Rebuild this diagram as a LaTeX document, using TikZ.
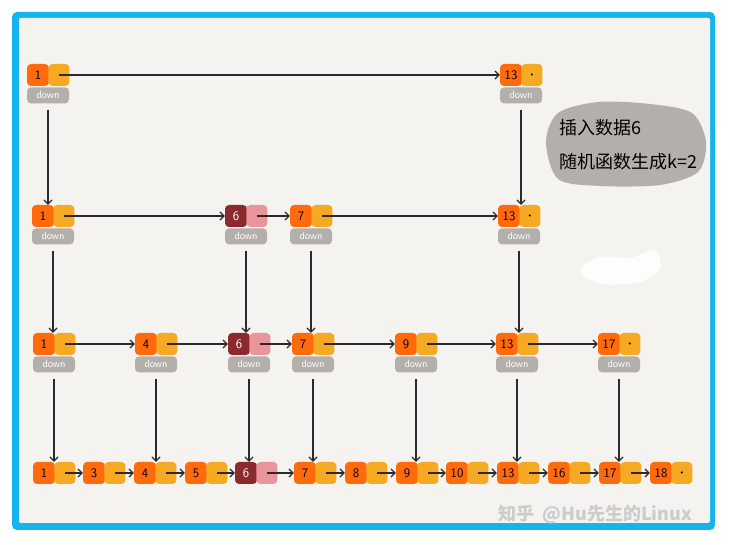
\documentclass[tikz,border=0pt]{standalone}
\usepackage{fontspec}
\newfontfamily\cjkfont{Noto Sans CJK SC}
\usetikzlibrary{positioning,arrows.meta}

\definecolor{frameblue}{HTML}{14B5EE}
\definecolor{paper}{HTML}{F4F3EF}
\definecolor{keyorange}{HTML}{FF6A0C}
\definecolor{ptryellow}{HTML}{F6A923}
\definecolor{downgray}{HTML}{B3B0AB}
\definecolor{newred}{HTML}{8A2A2E}
\definecolor{newpink}{HTML}{E9959B}
\definecolor{linkgray}{HTML}{2A2A2A}

\tikzset{
  key/.style={fill=keyorange, rounded corners=4pt, minimum size=22pt, inner sep=0pt,
    font=\sffamily\fontsize{13}{13}\selectfont},
  ptr/.style={fill=ptryellow, rounded corners=4pt, minimum width=21pt, minimum height=22pt,
    inner sep=0pt, font=\scriptsize},
  newkey/.style={key, fill=newred, text=white},
  newptr/.style={ptr, fill=newpink},
  downbox/.style={fill=downgray, rounded corners=4pt, minimum width=42pt, minimum height=16pt,
    inner sep=0pt, text=white, font=\sffamily\fontsize{10.5}{10.5}\selectfont},
  hlink/.style={draw=linkgray, line width=1.2pt, -{Straight Barb[length=4pt,width=8pt]}},
  vlink/.style={hlink, shorten <=6pt},
}

\begin{document}
\begin{tikzpicture}[x=1pt, y=-1pt]
\useasboundingbox (0,0) rectangle (732,545);
\fill[white] (0,0) rectangle (732,545);
\fill[frameblue, rounded corners=5pt] (12,12) rectangle (715,530);
\fill[paper, rounded corners=2pt] (19,18) rectangle (710,523);

% note bubble
\fill[downgray] plot[smooth cycle] coordinates {(546,142) (558,113) (598,102) (650,104) (692,113) (706,142) (698,172) (660,185) (600,186) (558,179)};
\node[anchor=west, font=\cjkfont\fontsize{18}{18}\selectfont] (note1) at (556,128) {插入数据6};
\node[anchor=west, font=\cjkfont\fontsize{18}{18}\selectfont] (note2) at (556,162) {随机函数生成k=2};
\fill[white, opacity=0.9] plot[smooth cycle] coordinates {(580,270) (600,257) (630,258) (655,250) (660,268) (640,282) (600,284)};

% level 1
\node[key] (L1n1) at (38,75) {1};
\node[ptr, right=-1pt of L1n1] (L1n1p) {};
\node[downbox, below right=1pt and 0pt of L1n1.south west] (L1n1d) {down};
\node[key] (L1n13) at (511,75) {13};
\node[ptr, right=-1pt of L1n13] (L1n13p) {\textbullet};
\node[downbox, below right=1pt and 0pt of L1n13.south west] (L1n13d) {down};

% level 2
\node[key] (L2n1) at (43,216) {1};
\node[ptr, right=-1pt of L2n1] (L2n1p) {};
\node[downbox, below right=1pt and 0pt of L2n1.south west] (L2n1d) {down};
\node[newkey] (L2n6) at (236,216) {6};
\node[newptr, right=-1pt of L2n6] (L2n6p) {};
\node[downbox, below right=1pt and 0pt of L2n6.south west] (L2n6d) {down};
\node[key] (L2n7) at (301,216) {7};
\node[ptr, right=-1pt of L2n7] (L2n7p) {};
\node[downbox, below right=1pt and 0pt of L2n7.south west] (L2n7d) {down};
\node[key] (L2n13) at (509,216) {13};
\node[ptr, right=-1pt of L2n13] (L2n13p) {\textbullet};
\node[downbox, below right=1pt and 0pt of L2n13.south west] (L2n13d) {down};

% level 3
\node[key] (L3n1) at (44,344) {1};
\node[ptr, right=-1pt of L3n1] (L3n1p) {};
\node[downbox, below right=1pt and 0pt of L3n1.south west] (L3n1d) {down};
\node[key] (L3n4) at (146,344) {4};
\node[ptr, right=-1pt of L3n4] (L3n4p) {};
\node[downbox, below right=1pt and 0pt of L3n4.south west] (L3n4d) {down};
\node[newkey] (L3n6) at (239,344) {6};
\node[newptr, right=-1pt of L3n6] (L3n6p) {};
\node[downbox, below right=1pt and 0pt of L3n6.south west] (L3n6d) {down};
\node[key] (L3n7) at (303,344) {7};
\node[ptr, right=-1pt of L3n7] (L3n7p) {};
\node[downbox, below right=1pt and 0pt of L3n7.south west] (L3n7d) {down};
\node[key] (L3n9) at (406,344) {9};
\node[ptr, right=-1pt of L3n9] (L3n9p) {};
\node[downbox, below right=1pt and 0pt of L3n9.south west] (L3n9d) {down};
\node[key] (L3n13) at (507,344) {13};
\node[ptr, right=-1pt of L3n13] (L3n13p) {};
\node[downbox, below right=1pt and 0pt of L3n13.south west] (L3n13d) {down};
\node[key] (L3n17) at (609,344) {17};
\node[ptr, right=-1pt of L3n17] (L3n17p) {\textbullet};
\node[downbox, below right=1pt and 0pt of L3n17.south west] (L3n17d) {down};

% level 4
\node[key] (L4n1) at (44,473) {1};
\node[ptr, right=-1pt of L4n1] (L4n1p) {};
\node[key] (L4n3) at (94,473) {3};
\node[ptr, right=-1pt of L4n3] (L4n3p) {};
\node[key] (L4n4) at (145,473) {4};
\node[ptr, right=-1pt of L4n4] (L4n4p) {};
\node[key] (L4n5) at (196,473) {5};
\node[ptr, right=-1pt of L4n5] (L4n5p) {};
\node[newkey] (L4n6) at (246,473) {6};
\node[newptr, right=-1pt of L4n6] (L4n6p) {};
\node[key] (L4n7) at (305,473) {7};
\node[ptr, right=-1pt of L4n7] (L4n7p) {};
\node[key] (L4n8) at (356,473) {8};
\node[ptr, right=-1pt of L4n8] (L4n8p) {};
\node[key] (L4n9) at (407,473) {9};
\node[ptr, right=-1pt of L4n9] (L4n9p) {};
\node[key] (L4n10) at (457,473) {10};
\node[ptr, right=-1pt of L4n10] (L4n10p) {};
\node[key] (L4n13) at (508,473) {13};
\node[ptr, right=-1pt of L4n13] (L4n13p) {};
\node[key] (L4n16) at (559,473) {16};
\node[ptr, right=-1pt of L4n16] (L4n16p) {};
\node[key] (L4n17) at (610,473) {17};
\node[ptr, right=-1pt of L4n17] (L4n17p) {};
\node[key] (L4n18) at (661,473) {18};
\node[ptr, right=-1pt of L4n18] (L4n18p) {\textbullet};

% next pointers
\draw[hlink] (L1n1p.center) -- (L1n13.west);
\draw[hlink] (L2n1p.center) -- (L2n6.west);
\draw[hlink] (L2n6p.center) -- (L2n7.west);
\draw[hlink] (L2n7p.center) -- (L2n13.west);
\draw[hlink] (L3n1p.center) -- (L3n4.west);
\draw[hlink] (L3n4p.center) -- (L3n6.west);
\draw[hlink] (L3n6p.center) -- (L3n7.west);
\draw[hlink] (L3n7p.center) -- (L3n9.west);
\draw[hlink] (L3n9p.center) -- (L3n13.west);
\draw[hlink] (L3n13p.center) -- (L3n17.west);
\draw[hlink] (L4n1p.center) -- (L4n3.west);
\draw[hlink] (L4n3p.center) -- (L4n4.west);
\draw[hlink] (L4n4p.center) -- (L4n5.west);
\draw[hlink] (L4n5p.center) -- (L4n6.west);
\draw[hlink] (L4n6p.center) -- (L4n7.west);
\draw[hlink] (L4n7p.center) -- (L4n8.west);
\draw[hlink] (L4n8p.center) -- (L4n9.west);
\draw[hlink] (L4n9p.center) -- (L4n10.west);
\draw[hlink] (L4n10p.center) -- (L4n13.west);
\draw[hlink] (L4n13p.center) -- (L4n16.west);
\draw[hlink] (L4n16p.center) -- (L4n17.west);
\draw[hlink] (L4n17p.center) -- (L4n18.west);

% down pointers
\draw[vlink] (L1n1d.south) -- (L2n1.north -| L1n1d.south);
\draw[vlink] (L1n13d.south) -- (L2n13.north -| L1n13d.south);
\draw[vlink] (L2n1d.south) -- (L3n1.north -| L2n1d.south);
\draw[vlink] (L2n6d.south) -- (L3n6.north -| L2n6d.south);
\draw[vlink] (L2n7d.south) -- (L3n7.north -| L2n7d.south);
\draw[vlink] (L2n13d.south) -- (L3n13.north -| L2n13d.south);
\draw[vlink] (L3n1d.south) -- (L4n1.north -| L3n1d.south);
\draw[vlink] (L3n4d.south) -- (L4n4.north -| L3n4d.south);
\draw[vlink] (L3n6d.south) -- (L4n6.north -| L3n6d.south);
\draw[vlink] (L3n7d.south) -- (L4n7.north -| L3n7d.south);
\draw[vlink] (L3n9d.south) -- (L4n9.north -| L3n9d.south);
\draw[vlink] (L3n13d.south) -- (L4n13.north -| L3n13d.south);
\draw[vlink] (L3n17d.south) -- (L4n17.north -| L3n17d.south);

% watermark
\node[anchor=west, text=black!20, font=\cjkfont\bfseries\fontsize{18}{18}\selectfont] (mark) at (495,515) {知乎\ \ @Hu先生的Linux};
\end{tikzpicture}
\end{document}
